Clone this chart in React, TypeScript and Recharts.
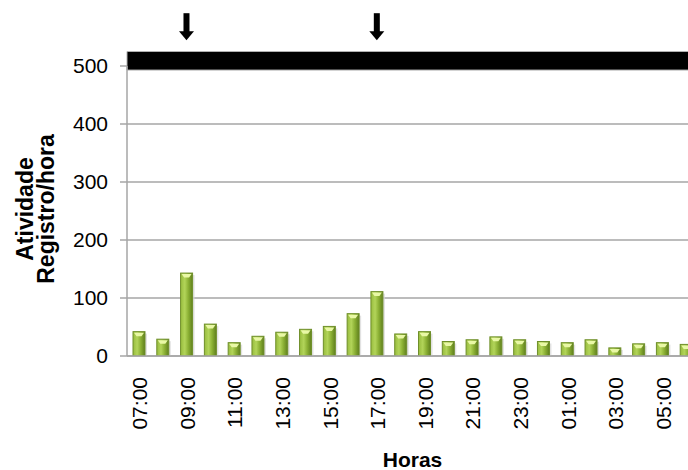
// hourly activity chart (registro/hora) with light marker bar on top and arrows at the two peaks.
// chart is wider than the window on purpose: the last bar is cut at the right edge like the source.

import { BarChart, Bar, XAxis, YAxis, CartesianGrid, ReferenceArea, ReferenceDot } from "recharts";

const hours = [
  "07:00", "08:00", "09:00", "10:00", "11:00", "12:00", "13:00", "14:00",
  "15:00", "16:00", "17:00", "18:00", "19:00", "20:00", "21:00", "22:00",
  "23:00", "00:00", "01:00", "02:00", "03:00", "04:00", "05:00", "06:00",
];
const activity = [42, 29, 143, 55, 23, 34, 41, 46, 51, 73, 111, 38, 42, 25, 28, 33, 28, 25, 23, 28, 14, 21, 23, 20];
const yTicks = [0, 100, 200, 300, 400, 500];
const arrowHours = ["09:00", "17:00"];
// the black band sits on the 500 line, a bit thicker above it
const bandFrom = 493;
const bandTo = 525;

const data = hours.map((h, i) => ({ hour: h, value: activity[i] }));

const font = "'Liberation Sans', Arial, sans-serif";
const grey = "#a6a6a6";

// green cylinder-ish bar like the office chart: gradient body, light cap, soft shadow
function GreenBar(props: any) {
  const { x, y, width, height } = props;
  if (!height || height <= 0) return null;
  return (
    <g>
      <rect x={x + 2} y={y + 2} width={width} height={height - 2} fill="#d6d6d6" opacity={0.7} />
      <rect x={x} y={y} width={width} height={height} fill="url(#barGrad)" stroke="#6f8f2a" strokeWidth={1} />
      <polygon
        points={`${x + 1},${y + 1} ${x + width - 1},${y + 1} ${x + width - 3.5},${y + 4.5} ${x + 3.5},${y + 4.5}`}
        fill="#e9f8a6"
      />
    </g>
  );
}

function Arrow(props: any) {
  const { cx, cy } = props;
  return (
    <g>
      <rect x={cx - 3} y={cy - 18} width={6} height={19} fill="#000" />
      <polygon points={`${cx - 7.5},${cy} ${cx + 7.5},${cy} ${cx},${cy + 9}`} fill="#000" />
    </g>
  );
}

function HourTick(props: any) {
  const { x, y, payload } = props;
  return (
    <text
      x={x}
      y={y}
      dy="0.4em"
      transform={`rotate(-90 ${x} ${y})`}
      textAnchor="end"
      fontSize={21}
      fill="#000"
      fontFamily={font}
    >
      {payload.value}
    </text>
  );
}

function YTitle(props: any) {
  const vb = props.viewBox || {};
  const cy = (vb.y || 66) + (vb.height || 290) / 2 - 2;
  return (
    <g fontFamily={font} fontWeight="bold" fontSize={23} fill="#000">
      <text x={33} y={cy} transform={`rotate(-90 33 ${cy})`} textAnchor="middle">
        Atividade
      </text>
      <text x={54} y={cy} transform={`rotate(-90 54 ${cy})`} textAnchor="middle">
        Registro/hora
      </text>
    </g>
  );
}

function XTitle(props: any) {
  const vb = props.viewBox || {};
  const cx = (vb.x || 127) + (vb.width || 571) / 2;
  return (
    <text x={cx} y={467} textAnchor="middle" fontFamily={font} fontWeight="bold" fontSize={21} fill="#000">
      Horas
    </text>
  );
}

export default function App() {
  return (
    <div style={{ position: "absolute", left: 0, top: 0, width: 688, height: 470, overflow: "hidden", background: "#fff" }}>
      <BarChart
        width={720}
        height={470}
        data={data}
        margin={{ top: 66, right: 22, bottom: 0, left: 0 }}
        style={{ fontFamily: font }}
      >
        <defs>
          <linearGradient id="barGrad" x1="0" y1="0" x2="1" y2="0">
            <stop offset="0%" stopColor="#98bc3e" />
            <stop offset="35%" stopColor="#b2d459" />
            <stop offset="65%" stopColor="#8bb034" />
            <stop offset="100%" stopColor="#5f7f1d" />
          </linearGradient>
        </defs>
        <CartesianGrid vertical={false} stroke={grey} strokeWidth={1.5} />
        <XAxis
          dataKey="hour"
          interval={1}
          height={114}
          tickLine={false}
          tickSize={0}
          tickMargin={21}
          axisLine={{ stroke: grey, strokeWidth: 1.5 }}
          tick={<HourTick />}
          label={<XTitle />}
        />
        <YAxis
          width={127}
          domain={[0, 500]}
          ticks={yTicks}
          allowDataOverflow
          tickSize={7}
          tickMargin={12}
          tickLine={{ stroke: grey, strokeWidth: 1.5 }}
          axisLine={{ stroke: grey, strokeWidth: 1.5 }}
          tick={{ fontSize: 21, fill: "#000", fontFamily: font }}
          label={<YTitle />}
        />
        <ReferenceArea
          y1={bandFrom}
          y2={bandTo}
          ifOverflow="visible"
          fill="#000"
          fillOpacity={1}
          stroke="#b0b0b0"
          strokeWidth={1}
        />
        {arrowHours.map((h) => (
          <ReferenceDot key={h} x={h} y={560} ifOverflow="visible" shape={<Arrow />} />
        ))}
        <Bar dataKey="value" barSize={12} shape={<GreenBar />} isAnimationActive={false} />
      </BarChart>
    </div>
  );
}
